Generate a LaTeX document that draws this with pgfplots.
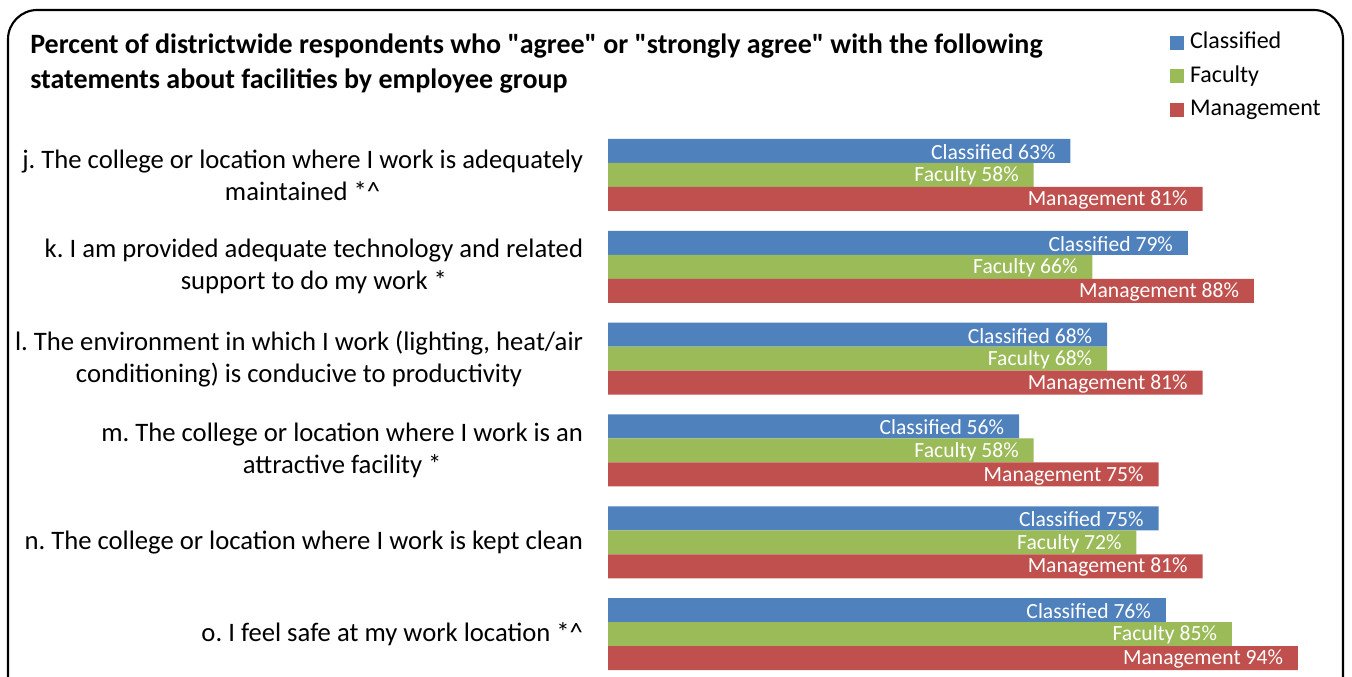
\documentclass[border=0pt]{standalone}
\usepackage{pgfplots}
\pgfplotsset{compat=1.18}
\usepackage{pgfplotstable}
\usepackage{fontspec}
\setmainfont{Carlito}
\frenchspacing
\definecolor{cC}{HTML}{4F81BD}
\definecolor{cF}{HTML}{9BBB59}
\definecolor{cM}{HTML}{C0504D}

\pgfplotstableread{
pos C F M
5 63 58 81
4 79 66 88
3 68 68 81
2 56 58 75
1 75 72 81
0 76 85 94
}\data

\pgfplotsset{sqlegend/.style={legend image code/.code={\draw[##1,draw=none] (0pt,-5.25pt) rectangle (10.5pt,5.25pt);}}}

\begin{document}
\begin{tikzpicture}[x=0.75pt,y=0.75pt]
\useasboundingbox (0,0) rectangle (1352,677);
\draw[line width=1.6pt, rounded corners=22pt] (8,667) rectangle (1343,-60);
\node[anchor=base west, font=\fontsize{21}{26}\selectfont\bfseries, inner sep=0pt] at (30,623) {Percent of districtwide respondents who \textquotedbl agree\textquotedbl{} or \textquotedbl strongly agree\textquotedbl{} with the following};
\node[anchor=base west, font=\fontsize{21}{26}\selectfont\bfseries, inner sep=0pt] at (30,588) {statements about facilities by employee group};
\begin{axis}[
 at={(456pt,-2.3pt)}, anchor=south west,
 scale only axis, width=550.5pt, height=413.25pt,
 xmin=0, xmax=100, ymin=-0.5, ymax=5.5,
 xbar, bar width=18pt,
 axis line style={draw=none}, tick style={draw=none},
 xtick=\empty,
 ytick={0,1,2,3,4,5},
 yticklabels={
  {o. I feel safe at my work location *\textasciicircum},
  {n. The college or location where I work is kept clean},
  {m. The college or location where I work is an\\attractive facility *},
  {l. The environment in which I work (lighting, heat/air\\conditioning) is conducive to productivity},
  {k. I am provided adequate technology and related\\support to do my work *},
  {j. The college or location where I work is adequately\\maintained *\textasciicircum}},
 yticklabel style={align=center, inner sep=0pt, font=\fontsize{20}{24}\selectfont},
 yticklabel shift=14.25pt,
 point meta=x,
 /pgf/number format/assume math mode=true,
 nodes near coords style={anchor=east, text=white, inner sep=0pt, xshift=-11pt, yshift=-0.8pt, font=\fontsize{16.2}{19}\selectfont},
 clip=false,
 legend cell align=left,
 legend style={at={(axis description cs:0.7657,1.1773)}, anchor=north west, draw=none, fill=none, inner sep=0pt, outer sep=0pt, row sep=8.1pt, column sep=4.5pt, font=\fontsize{18}{21.6}\selectfont, nodes={inner sep=0pt, text height=13pt, text depth=4pt}},
]
\addplot[fill=cC, draw=none, bar shift=18pt, sqlegend,
  nodes near coords={Classified \pgfmathprintnumber{\pgfplotspointmeta}\%}] table[x=C, y=pos] {\data};
\addplot[fill=cF, draw=none, bar shift=0pt, sqlegend,
  nodes near coords={Faculty \pgfmathprintnumber{\pgfplotspointmeta}\%}] table[x=F, y=pos] {\data};
\addplot[fill=cM, draw=none, bar shift=-18pt, sqlegend,
  nodes near coords={Management \pgfmathprintnumber{\pgfplotspointmeta}\%}] table[x=M, y=pos] {\data};
\legend{Classified, Faculty, Management}
\end{axis}
\end{tikzpicture}
\end{document}
